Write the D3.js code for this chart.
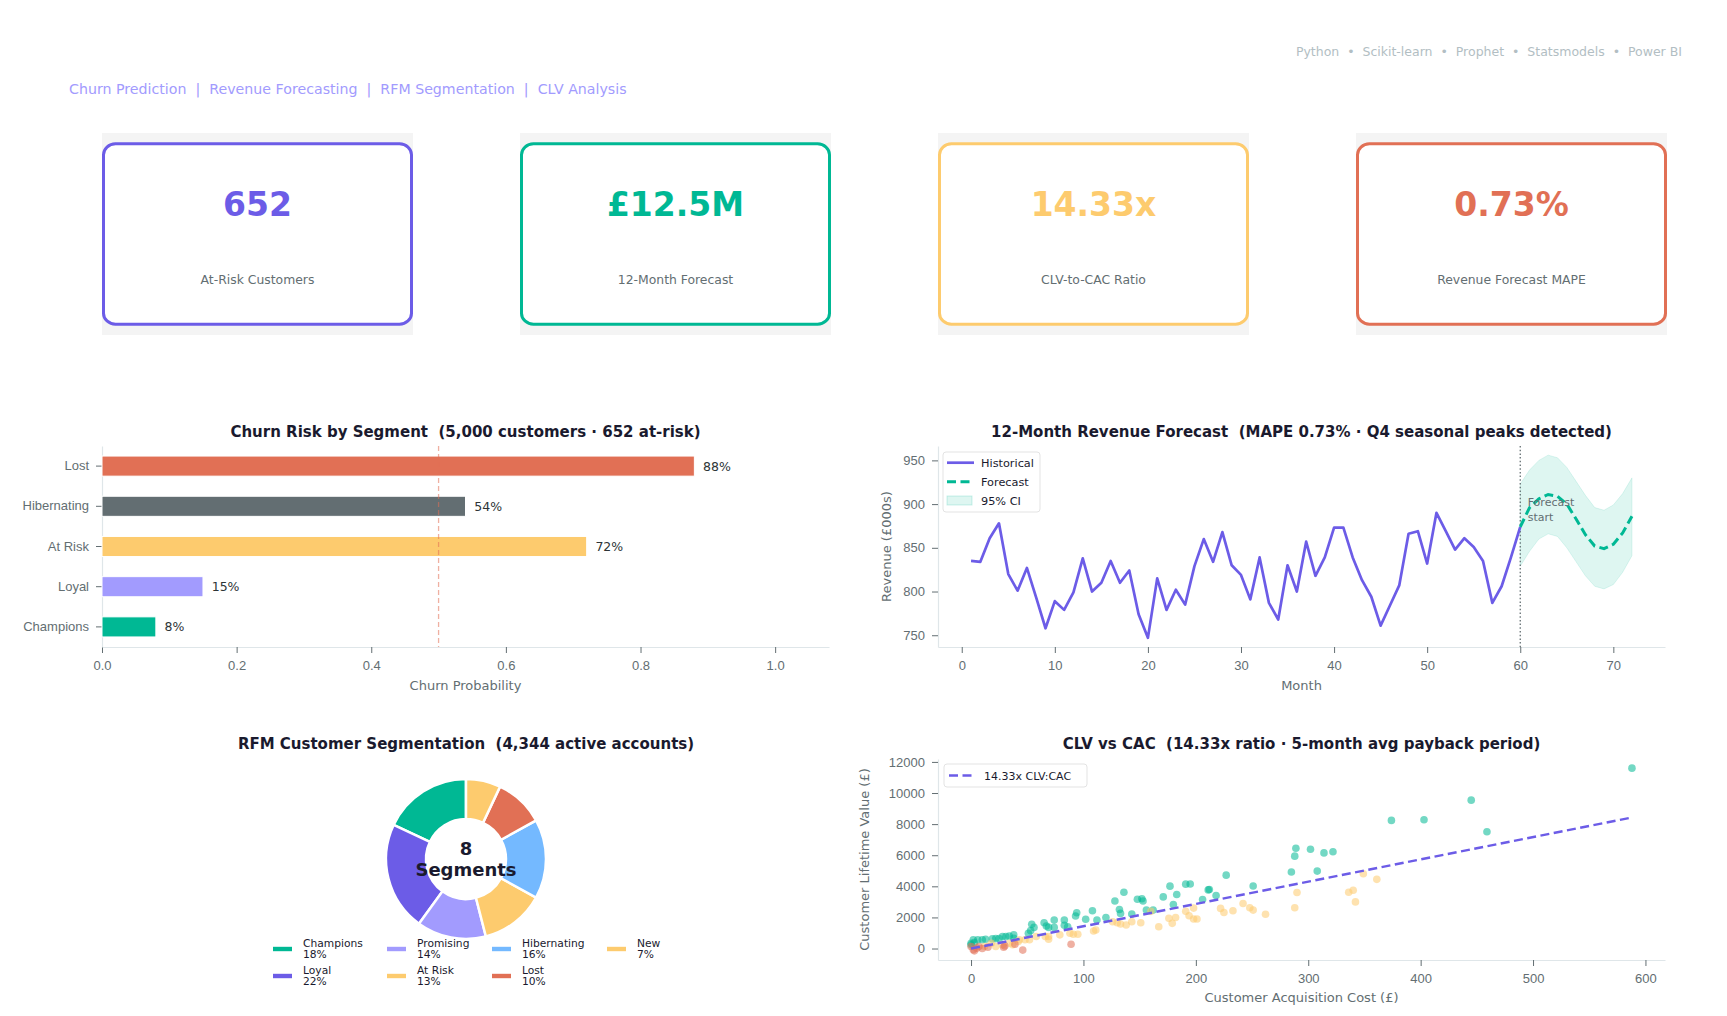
<!DOCTYPE html>
<meta charset="utf-8">
<style>
body { margin: 0; background: #fff; }
svg { font-family: "DejaVu Sans", sans-serif; }
.axis .domain { stroke: #dfe6e9; stroke-width: 1.2; }
.axis .tick line { stroke: #636e72; }
.axis .tick text { fill: #636e72; font-size: 13px; }
.ttl { font-size: 15px; font-weight: bold; fill: #1a1a2e; text-anchor: middle; }
.lbl { font-size: 13px; fill: #636e72; text-anchor: middle; }
</style>
<body>
<script src="https://d3js.org/d3.v7.min.js"></script>
<script>

// ---- data ----
var techStack = ["Python", "Scikit-learn", "Prophet", "Statsmodels", "Power BI"];
var modules = ["Churn Prediction", "Revenue Forecasting", "RFM Segmentation", "CLV Analysis"];

var kpiValues = ["652", "£12.5M", "14.33x", "0.73%"];
var kpiLabels = ["At-Risk Customers", "12-Month Forecast", "CLV-to-CAC Ratio", "Revenue Forecast MAPE"];
var kpiColors = ["#6c5ce7", "#00b894", "#fdcb6e", "#e17055"];

var churnSegments = ["Champions", "Loyal", "At Risk", "Hibernating", "Lost"];
var churnProb = [0.08, 0.15, 0.72, 0.54, 0.88];
var churnColors = ["#00b894", "#a29bfe", "#fdcb6e", "#636e72", "#e17055"];

var histMonths = d3.range(1, 61);
var histRevenue = [835, 834, 861, 878, 820, 801, 827, 793, 758, 789,
                   779, 799, 838, 800, 810, 835, 810, 824, 774, 747,
                   815, 779, 802, 785, 829, 860, 834, 868, 830, 819,
                   791, 839, 787, 768, 830, 800, 857, 818, 839, 873,
                   873, 839, 813, 794, 761, 784, 807, 866, 869, 832,
                   890, 869, 848, 861, 851, 835, 787, 806, 839, 874];
var fcMonths = d3.range(60, 73);
var fcRevenue = [874, 896, 906, 911, 909, 900, 883, 865, 852, 849, 854, 867, 886];
var fcUpper   = [923, 939, 950, 956, 953, 942, 926, 910, 896, 893, 899, 912, 930];
var fcLower   = [829, 846, 860, 866, 863, 850, 834, 818, 806, 803, 808, 822, 841];

var rfmSegments = ["Champions", "Loyal", "Promising", "At Risk", "Hibernating", "Lost", "New"];
var rfmShare = [18, 22, 14, 13, 16, 10, 7];
var rfmColors = ["#00b894", "#6c5ce7", "#a29bfe", "#fdcb6e", "#74b9ff", "#e17055", "#fdcb6e"];

// [CAC, CLV] per value tier
var scatterHigh = [[588,11600],[445,9540],[374,8240],[403,8280],[459,7510],[289,6450],[288,5940],[302,6380],
  [314,6150],[322,6220],[285,4920],[308,4980],[227,4720],[251,4020],[211,3770],[212,3800],[218,3410],[206,3150],
  [191,4140],[195,4150],[177,4010],[183,3470],[171,3320],[180,2830],[136,3620],[128,3060],[148,3170],[152,3200],
  [153,3060],[156,2470],[162,2470],[132,2510],[133,2260],[108,2430],[94,2300],[93,2090],[120,2000],[112,1830],
  [102,1880],[143,2220],[83,1830],[83,1490],[74,1830],[65,1660],[67,1450],[54,1560],[56,1360],[53,1150],[51,980],
  [69,1360],[74,1360],[86,1400],[38,880],[38,660],[34,810],[31,770],[28,770],[25,640],[22,640],[19,620],[13,600],
  [10,560],[6,560],[2,560],[3,380],[0,240],[0,340]];
var scatterMid = [[349,4810],[361,4450],[290,3600],[336,3620],[340,3750],[342,3000],[288,2620],[262,2200],
  [242,2900],[248,2620],[251,2470],[233,2430],[222,2580],[225,2320],[198,2600],[191,2390],[194,2110],[198,1900],
  [201,1900],[176,1940],[182,2000],[179,1620],[167,1400],[151,1660],[160,2390],[143,1720],[138,1510],[133,1580],
  [130,1660],[126,1720],[111,1190],[109,1130],[95,920],[91,920],[88,980],[79,880],[69,600],[69,770],[66,770],
  [58,770],[52,560],[48,560],[43,560],[42,450],[37,240],[34,340],[28,240],[22,130],[18,340],[12,130]];
var scatterLow = [[46,-100],[89,280],[39,280],[30,170],[29,90],[15,90],[2,-80],[5,25],[0,130],[7,130],[3,-150],[10,0]];
var clvRatio = 14.33;

// ---- canvas ----
var svg = d3.select("body").append("svg")
    .attr("width", 1727)
    .attr("height", 1016);

function styleAxis(g) {
    g.attr("class", "axis");
}

// header
svg.append("text")
    .attr("x", 1682).attr("y", 56)
    .attr("text-anchor", "end")
    .style("white-space", "pre")
    .attr("font-size", 12.5)
    .attr("fill", "#b2bec3")
    .text(techStack.join("  •  "));

svg.append("text")
    .attr("x", 69).attr("y", 94)
    .style("white-space", "pre")
    .attr("font-size", 14.2)
    .attr("fill", "#a29bfe")
    .text(modules.join("  |  "));

// KPI cards
kpiValues.forEach(function(v, i) {
    var x0 = 102 + i * 418;
    var card = svg.append("g");
    card.append("rect")
        .attr("x", x0).attr("y", 133)
        .attr("width", 311).attr("height", 202)
        .attr("fill", "#f4f4f4");
    card.append("rect")
        .attr("x", x0 + 1.5).attr("y", 143.8)
        .attr("width", 308).attr("height", 180.4)
        .attr("rx", 12).attr("ry", 11)
        .attr("fill", "#fff")
        .attr("stroke", kpiColors[i])
        .attr("stroke-width", 3);
    card.append("text")
        .attr("x", x0 + 155.5).attr("y", 216)
        .attr("text-anchor", "middle")
        .attr("font-size", 33).attr("font-weight", "bold")
        .attr("fill", kpiColors[i])
        .text(v);
    card.append("text")
        .attr("x", x0 + 155.5).attr("y", 283.5)
        .attr("text-anchor", "middle")
        .attr("font-size", 12.4)
        .attr("fill", "#636e72")
        .text(kpiLabels[i]);
});

// ---- churn bar chart ----
var cx = d3.scaleLinear().domain([0, 1.08]).range([102, 829]);
var cy = d3.scaleBand().domain(churnSegments).range([647, 446]).paddingInner(0.5).paddingOuter(0.25);

svg.append("g")
    .attr("transform", "translate(0,647)")
    .call(d3.axisBottom(cx).tickValues([0, 0.2, 0.4, 0.6, 0.8, 1.0]).tickFormat(d3.format(".1f"))
        .tickSize(6).tickPadding(8).tickSizeOuter(0))
    .call(styleAxis);
svg.append("g")
    .attr("transform", "translate(102,0)")
    .call(d3.axisLeft(cy).tickSize(6).tickPadding(7).tickSizeOuter(0))
    .call(styleAxis);

svg.append("g").selectAll("rect")
    .data(churnSegments)
    .join("rect")
    .attr("x", cx(0))
    .attr("y", function(d) { return cy(d); })
    .attr("width", function(d, i) { return cx(churnProb[i]) - cx(0); })
    .attr("height", cy.bandwidth())
    .attr("fill", function(d, i) { return churnColors[i]; })
    .attr("stroke", "#fff").attr("stroke-width", 1);

svg.append("line")
    .attr("x1", cx(0.5)).attr("x2", cx(0.5))
    .attr("y1", 446).attr("y2", 647)
    .attr("stroke", "#e17055").attr("stroke-opacity", 0.55)
    .attr("stroke-width", 1.3).attr("stroke-dasharray", "5,3");

svg.append("g").selectAll("text")
    .data(churnSegments)
    .join("text")
    .attr("x", function(d, i) { return cx(churnProb[i] + 0.013); })
    .attr("y", function(d) { return cy(d) + cy.bandwidth() / 2 + 4.4; })
    .attr("font-size", 12.5).attr("fill", "#2d3436")
    .text(function(d, i) { return Math.round(churnProb[i] * 100) + "%"; });

svg.append("text").attr("class", "ttl").attr("x", 465.5).attr("y", 437)
    .style("white-space", "pre")
    .text("Churn Risk by Segment  (5,000 customers · 652 at-risk)");
svg.append("text").attr("class", "lbl").attr("x", 465.5).attr("y", 690)
    .text("Churn Probability");

// ---- revenue forecast ----
var allRev = histRevenue.concat(fcUpper, fcLower);
var revExt = d3.extent(allRev), revPad = (revExt[1] - revExt[0]) * 0.05;
var rx = d3.scaleLinear().domain([1 - 71 * 0.05, 72 + 71 * 0.05]).range([938, 1665]);
var ry = d3.scaleLinear().domain([revExt[0] - revPad, revExt[1] + revPad]).range([647, 446]);

svg.append("g")
    .attr("transform", "translate(0,647)")
    .call(d3.axisBottom(rx).tickValues(d3.range(0, 71, 10)).tickSize(6).tickPadding(8).tickSizeOuter(0))
    .call(styleAxis);
svg.append("g")
    .attr("transform", "translate(938,0)")
    .call(d3.axisLeft(ry).tickValues([750, 800, 850, 900, 950]).tickSize(6).tickPadding(7).tickSizeOuter(0))
    .call(styleAxis);

var ciArea = d3.area()
    .x(function(d, i) { return rx(fcMonths[i]); })
    .y0(function(d, i) { return ry(fcLower[i]); })
    .y1(function(d, i) { return ry(fcUpper[i]); });
svg.append("path")
    .attr("d", ciArea(fcMonths))
    .attr("fill", "#00b894").attr("fill-opacity", 0.13)
    .attr("stroke", "#00b894").attr("stroke-opacity", 0.12);

svg.append("line")
    .attr("x1", rx(60)).attr("x2", rx(60))
    .attr("y1", 446).attr("y2", 647)
    .attr("stroke", "#636e72").attr("stroke-width", 1.3)
    .attr("stroke-dasharray", "1.5,2.2");

var histLine = d3.line()
    .x(function(d, i) { return rx(histMonths[i]); })
    .y(function(d) { return ry(d); });
svg.append("path")
    .attr("d", histLine(histRevenue))
    .attr("fill", "none").attr("stroke", "#6c5ce7").attr("stroke-width", 2.7)
    .attr("stroke-linejoin", "round");

var fcLine = d3.line()
    .x(function(d, i) { return rx(fcMonths[i]); })
    .y(function(d) { return ry(d); });
svg.append("path")
    .attr("d", fcLine(fcRevenue))
    .attr("fill", "none").attr("stroke", "#00b894").attr("stroke-width", 3)
    .attr("stroke-dasharray", "9,4.5");

svg.append("text")
    .attr("x", rx(60.8)).attr("y", ry(898))
    .attr("font-size", 11).attr("fill", "#636e72")
    .selectAll("tspan").data(["Forecast", "start"]).join("tspan")
    .attr("x", rx(60.8)).attr("dy", function(d, i) { return i ? 15 : 0; })
    .text(function(d) { return d; });

// legend
var leg = svg.append("g").attr("transform", "translate(943,452)");
leg.append("rect").attr("width", 97).attr("height", 60).attr("rx", 3)
    .attr("fill", "#fff").attr("fill-opacity", 0.85).attr("stroke", "#e3e3e3");
leg.append("line").attr("x1", 4).attr("x2", 31).attr("y1", 10.7).attr("y2", 10.7)
    .attr("stroke", "#6c5ce7").attr("stroke-width", 2.7);
leg.append("line").attr("x1", 4).attr("x2", 31).attr("y1", 29.7).attr("y2", 29.7)
    .attr("stroke", "#00b894").attr("stroke-width", 3).attr("stroke-dasharray", "9,4.5");
leg.append("rect").attr("x", 4).attr("y", 44).attr("width", 25).attr("height", 9)
    .attr("fill", "#00b894").attr("fill-opacity", 0.13).attr("stroke", "#00b894").attr("stroke-opacity", 0.2);
["Historical", "Forecast", "95% CI"].forEach(function(t, i) {
    leg.append("text").attr("x", 38).attr("y", 14.7 + i * 19)
        .attr("font-size", 11.3).attr("fill", "#1a1a2e").text(t);
});

svg.append("text").attr("class", "ttl").attr("x", 1301.5).attr("y", 437)
    .style("white-space", "pre")
    .text("12-Month Revenue Forecast  (MAPE 0.73% · Q4 seasonal peaks detected)");
svg.append("text").attr("class", "lbl").attr("x", 1301.5).attr("y", 690).text("Month");
svg.append("text").attr("class", "lbl")
    .attr("transform", "translate(891,546.5) rotate(-90)")
    .text("Revenue (£000s)");

// ---- RFM donut ----
var pie = d3.pie().sort(null).startAngle(0).endAngle(-2 * Math.PI);
var arc = d3.arc().innerRadius(40).outerRadius(80);
var donut = svg.append("g").attr("transform", "translate(466,859)");
donut.selectAll("path")
    .data(pie(rfmShare))
    .join("path")
    .attr("d", arc)
    .attr("fill", function(d, i) { return rfmColors[i]; })
    .attr("stroke", "#fff").attr("stroke-width", 2.5);
donut.append("text").attr("y", -4).attr("text-anchor", "middle")
    .attr("font-size", 18).attr("font-weight", "bold").attr("fill", "#1a1a2e").text("8");
donut.append("text").attr("y", 17).attr("text-anchor", "middle")
    .attr("font-size", 18).attr("font-weight", "bold").attr("fill", "#1a1a2e").text("Segments");

var legCols = [273, 387, 492, 607];
rfmSegments.forEach(function(s, i) {
    var col = Math.floor(i / 2), row = i % 2;
    var lx = legCols[col], ly = 949 + row * 27;
    svg.append("rect").attr("x", lx).attr("y", ly - 2.2).attr("width", 19).attr("height", 4.4)
        .attr("fill", rfmColors[i]);
    var t = svg.append("text").attr("font-size", 10.7).attr("fill", "#1a1a2e");
    t.append("tspan").attr("x", lx + 30).attr("y", ly - 2).text(s);
    t.append("tspan").attr("x", lx + 30).attr("y", ly + 9).text(rfmShare[i] + "%");
});

svg.append("text").attr("class", "ttl").attr("x", 466).attr("y", 748.5)
    .style("white-space", "pre")
    .text("RFM Customer Segmentation  (4,344 active accounts)");

// ---- CLV vs CAC ----
var allPts = scatterHigh.concat(scatterMid, scatterLow);
var cacExt = d3.extent(allPts, function(d) { return d[0]; });
var clvExt = d3.extent(allPts, function(d) { return d[1]; });
var cacPad = (cacExt[1] - cacExt[0]) * 0.05, clvPad = (clvExt[1] - clvExt[0]) * 0.05;
var sx = d3.scaleLinear().domain([cacExt[0] - cacPad, cacExt[1] + cacPad]).range([938, 1665]);
var sy = d3.scaleLinear().domain([clvExt[0] - clvPad, clvExt[1] + clvPad]).range([960, 759]);

svg.append("g")
    .attr("transform", "translate(0,960)")
    .call(d3.axisBottom(sx).tickValues(d3.range(0, 601, 100)).tickSize(6).tickPadding(8).tickSizeOuter(0))
    .call(styleAxis);
svg.append("g")
    .attr("transform", "translate(938,0)")
    .call(d3.axisLeft(sy).tickValues(d3.range(0, 12001, 2000)).tickFormat(d3.format("d"))
        .tickSize(6).tickPadding(7).tickSizeOuter(0))
    .call(styleAxis);

[[scatterHigh, "#00b894"], [scatterMid, "#fdcb6e"], [scatterLow, "#e17055"]].forEach(function(g) {
    svg.append("g").selectAll("circle")
        .data(g[0])
        .join("circle")
        .attr("cx", function(d) { return sx(d[0]); })
        .attr("cy", function(d) { return sy(d[1]); })
        .attr("r", 3.8)
        .attr("fill", g[1]).attr("fill-opacity", 0.55);
});

var fitX = [0, cacExt[1]];
svg.append("line")
    .attr("x1", sx(fitX[0])).attr("y1", sy(fitX[0] * clvRatio))
    .attr("x2", sx(fitX[1])).attr("y2", sy(fitX[1] * clvRatio))
    .attr("stroke", "#6c5ce7").attr("stroke-width", 2.5)
    .attr("stroke-dasharray", "9,4.5");

var leg2 = svg.append("g").attr("transform", "translate(944,764)");
leg2.append("rect").attr("width", 143).attr("height", 23).attr("rx", 3)
    .attr("fill", "#fff").attr("fill-opacity", 0.85).attr("stroke", "#e3e3e3");
leg2.append("line").attr("x1", 5).attr("x2", 28).attr("y1", 11.5).attr("y2", 11.5)
    .attr("stroke", "#6c5ce7").attr("stroke-width", 2.5).attr("stroke-dasharray", "9,4.5");
leg2.append("text").attr("x", 40).attr("y", 15.5).attr("font-size", 11).attr("fill", "#1a1a2e")
    .text("14.33x CLV:CAC");

svg.append("text").attr("class", "ttl").attr("x", 1301.5).attr("y", 748.5)
    .style("white-space", "pre")
    .text("CLV vs CAC  (14.33x ratio · 5-month avg payback period)");
svg.append("text").attr("class", "lbl").attr("x", 1301.5).attr("y", 1001.5)
    .text("Customer Acquisition Cost (£)");
svg.append("text").attr("class", "lbl")
    .attr("transform", "translate(869,859.5) rotate(-90)")
    .text("Customer Lifetime Value (£)");

</script>
</body>
